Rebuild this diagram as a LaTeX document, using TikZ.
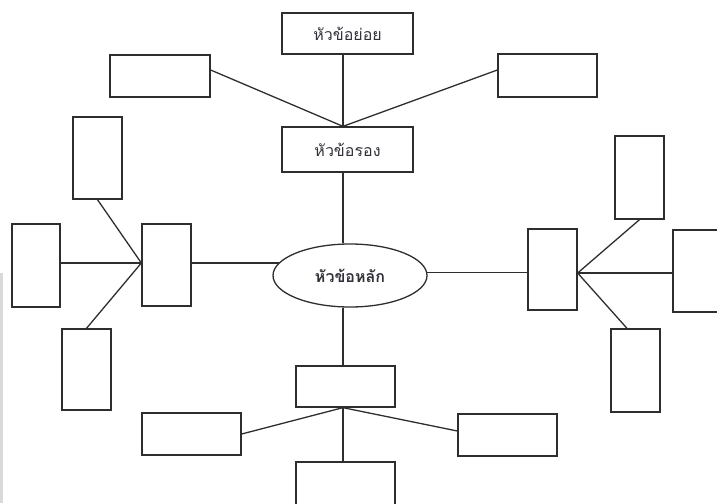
\documentclass[tikz,border=0pt]{standalone}
\usepackage{fontspec}
\newfontfamily\thaifont[Script=Thai]{Loma}
\usetikzlibrary{shapes.geometric,calc}
\definecolor{linec}{HTML}{2E2E2E}
\definecolor{textc}{HTML}{303038}
\begin{document}
\begin{tikzpicture}[x=1pt,y=-1pt,
  box/.style={draw=linec, line width=1.3pt, rectangle, inner sep=0pt},
  link/.style={draw=linec, line width=1.3pt},
  lbl/.style={font=\thaifont\fontsize{16}{18}\selectfont, text=textc}]
\useasboundingbox (0,0) rectangle (717,503);
\clip (0,0) rectangle (717,503);
\fill[gray!30] (0,273) rectangle (3,503);
% top
\node[box, lbl, minimum width=131pt, minimum height=41pt] (sub) at (347.5,33.5) {หัวข้อย่อย};
\node[box, minimum width=100pt, minimum height=42pt] (tl) at (160,76) {};
\node[box, minimum width=99pt, minimum height=43pt] (tr) at (547.5,75.5) {};
\node[box, lbl, minimum width=131pt, minimum height=45pt] (sec) at (347.5,149.5) {หัวข้อรอง};
% centre
\node[draw=linec, line width=1.3pt, ellipse, minimum width=154pt, minimum height=63pt, inner sep=0pt, lbl, font=\thaifont\bfseries\fontsize{16}{18}\selectfont] (main) at (350,275.5) {หัวข้อหลัก};
% left group
\node[box, minimum width=49pt, minimum height=82pt] (lm) at (166.5,265) {};
\node[box, minimum width=49pt, minimum height=82pt] (lu) at (97.5,158) {};
\node[box, minimum width=48pt, minimum height=83pt] (ll) at (36,265.5) {};
\node[box, minimum width=49pt, minimum height=81pt] (lb) at (86.5,369.5) {};
% right group
\node[box, minimum width=49pt, minimum height=81pt] (rm) at (552.5,269.5) {};
\node[box, minimum width=49pt, minimum height=83pt] (ru) at (639.5,177.5) {};
\node[box, minimum width=49pt, minimum height=82pt] (rr) at (697.5,271) {};
\node[box, minimum width=49pt, minimum height=83pt] (rb) at (635.5,370.5) {};
% bottom group
\node[box, minimum width=99pt, minimum height=41pt] (bm) at (345.5,386.5) {};
\node[box, minimum width=99pt, minimum height=42pt] (bl) at (191.5,434) {};
\node[box, minimum width=99pt, minimum height=42pt] (br) at (507.5,435) {};
\node[box, minimum width=99pt, minimum height=60pt] (bb) at (345.5,492) {};
% connectors
\coordinate (vx) at (343,0);
\coordinate (h1) at (sec.north -| vx);
\draw[link] (sub.south -| vx) -- (h1);
\draw[link] ([yshift=6pt]tl.east) -- (h1);
\draw[link] ([yshift=5.5pt]tr.west) -- (h1);
\draw[link] (sec.south -| vx) -- (vx |- main.north);
\draw[link] (vx |- main.south) -- (vx |- bm.north);
\coordinate (h2) at (bm.south -| vx);
\draw[link] (h2) -- (bl.east);
\draw[link] (h2) -- ([yshift=4pt]br.west);
\draw[link] (h2) -- (h2 |- bb.north);
\coordinate (h3) at ([yshift=2pt]lm.west);
\draw[link] (lu.south) -- (h3);
\draw[link] (h3 -| ll.east) -- (h3);
\draw[link] (lb.north) -- (h3);
\draw[link] (main.170) -- (main.170 -| lm.east);
\coordinate (h4) at ([yshift=-3.5pt]rm.east);
\draw[link] (main.2) -- (main.2 -| rm.west);
\draw[link] (h4) -- (ru.south);
\draw[link] (h4) -- (h4 -| rr.west);
\draw[link] (h4) -- ([xshift=-8.5pt]rb.north);
\end{tikzpicture}
\end{document}
